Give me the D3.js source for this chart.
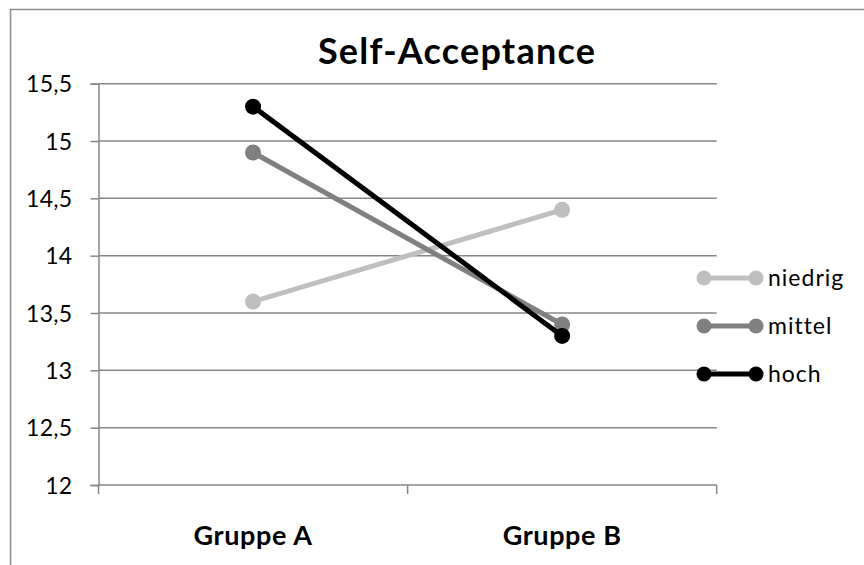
<!DOCTYPE html>
<html><head><meta charset="utf-8">
<script src="https://cdn.jsdelivr.net/npm/d3@7"></script>
<style>body{margin:0;background:#fff;} svg{display:block;}</style>
</head><body>
<script>
const categories = ["Gruppe A", "Gruppe B"];
const seriesNames = ["niedrig", "mittel", "hoch"];
const niedrig = [13.6, 14.4];
const mittel = [14.9, 13.4];
const hoch = [15.3, 13.3];
const yTicks = [12, 12.5, 13, 13.5, 14, 14.5, 15, 15.5];
const titleText = "Self-Acceptance";

(function () {
const seriesValues = [niedrig, mittel, hoch];
const colors = ["#bfbfbf", "#808080", "#000000"];
const W = 864, H = 565;
const font = "Lato, 'Open Sans', sans-serif";
const svg = d3.select("body").append("svg").attr("width", W).attr("height", H);

svg.append("rect").attr("x", 10.5).attr("y", 9.5).attr("width", W + 20).attr("height", H + 20)
  .attr("fill", "none").attr("stroke", "#8c8c8c").attr("stroke-width", 1.5);

const pLeft = 98.5, pRight = 716.7, pTop = 83.7, pBottom = 485;
const x = d3.scalePoint().domain(categories).range([pLeft, pRight]).padding(0.5);
const y = d3.scaleLinear().domain([12, 15.5]).range([pBottom, pTop]);
const axisColor = "#868686";

// grid
svg.append("g").selectAll("line").data(yTicks.filter(d => d > 12)).join("line")
  .attr("x1", pLeft).attr("x2", pRight).attr("y1", d => y(d)).attr("y2", d => y(d))
  .attr("stroke", axisColor).attr("stroke-width", 1.5);

// y axis
const yAxis = svg.append("g").attr("transform", `translate(${pLeft},0)`)
  .call(d3.axisLeft(y).tickValues(yTicks).tickSize(8).tickPadding(18)
    .tickFormat(d => String(d).replace(".", ",")));
yAxis.select(".domain").attr("stroke", axisColor).attr("stroke-width", 1.5);
yAxis.selectAll(".tick line").attr("stroke", axisColor).attr("stroke-width", 1.5);
yAxis.selectAll("text").attr("font-family", font).attr("font-size", 23).attr("fill", "#000")
  .attr("dy", "0.36em").attr("letter-spacing", "0.3px");

// x axis line + ticks at boundaries
svg.append("line").attr("x1", pLeft).attr("x2", pRight).attr("y1", pBottom).attr("y2", pBottom)
  .attr("stroke", axisColor).attr("stroke-width", 1.5);
const step = x.step();
const bounds = [pLeft].concat(categories.map(c => x(c) + step / 2));
svg.append("g").selectAll("line").data(bounds).join("line")
  .attr("x1", d => d).attr("x2", d => d).attr("y1", pBottom).attr("y2", pBottom + 9)
  .attr("stroke", axisColor).attr("stroke-width", 1.5);
svg.append("g").selectAll("text").data(categories).join("text")
  .attr("x", d => x(d)).attr("y", 544.5).attr("text-anchor", "middle")
  .attr("font-family", font).attr("font-weight", "bold").attr("font-size", 27)
  .attr("letter-spacing", "0.6px").text(d => d);

// title
svg.append("text").attr("x", 457).attr("y", 64).attr("text-anchor", "middle")
  .attr("font-family", font).attr("font-weight", "bold").attr("font-size", 36)
  .attr("letter-spacing", "1.2px").text(titleText);

// lines
const line = d3.line().x((d, i) => x(categories[i])).y(d => y(d));
seriesValues.forEach((vals, si) => {
  const g = svg.append("g");
  g.append("path").attr("d", line(vals)).attr("fill", "none")
    .attr("stroke", colors[si]).attr("stroke-width", 5);
  g.selectAll("circle").data(vals).join("circle")
    .attr("cx", (d, i) => x(categories[i])).attr("cy", d => y(d)).attr("r", 8)
    .attr("fill", colors[si]);
});

// legend
const legY = [278, 326, 374];
seriesNames.forEach((name, si) => {
  const g = svg.append("g").attr("transform", `translate(0,${legY[si]})`);
  g.append("line").attr("x1", 704).attr("x2", 756).attr("stroke", colors[si]).attr("stroke-width", 5);
  g.append("circle").attr("cx", 704).attr("r", 7.5).attr("fill", colors[si]);
  g.append("circle").attr("cx", 756).attr("r", 7.5).attr("fill", colors[si]);
  g.append("text").attr("x", 768).attr("y", 0).attr("dy", "0.36em")
    .attr("font-family", font).attr("font-size", 23).attr("letter-spacing", "1px").text(name);
});
})();
</script>
</body></html>
